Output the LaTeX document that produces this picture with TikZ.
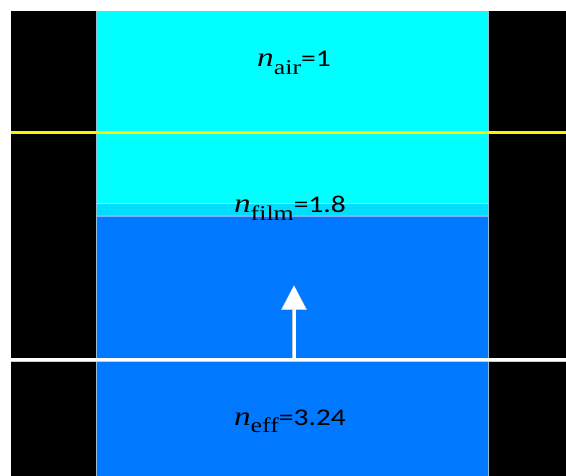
\documentclass[tikz,border=0pt]{standalone}
\usepackage{fontspec}
\setmainfont{Carlito}
\newfontfamily\serifn{Liberation Serif}
\usetikzlibrary{arrows.meta}
\definecolor{aircyan}{RGB}{0,255,255}
\definecolor{filmcyan}{RGB}{0,221,255}
\definecolor{subblue}{RGB}{0,120,255}
\definecolor{edgegray}{RGB}{150,190,210}
\definecolor{filmtop}{RGB}{160,240,255}
\definecolor{filmbot}{RGB}{120,180,255}
\tikzset{
  lbl/.style={anchor=base, inner sep=0pt, font=\fontsize{24}{28}\selectfont, text=black},
  ray/.style={line width=3.5pt},
}
\newcommand{\nidx}[2]{\scalebox{1.23}[1]{{\serifn\fontsize{27}{30}\selectfont\itshape n}\raisebox{-7.5pt}{\serifn\fontsize{21}{24}\selectfont #1}#2}}
\begin{document}
\begin{tikzpicture}[x=1pt,y=1pt]
\useasboundingbox (0,0) rectangle (566,-476);
\fill[white] (0,0) rectangle (566,-476);
\fill[black] (11,-11) rectangle (566,-476);
% central column
\fill[aircyan] (96.5,-11) rectangle (488,-203.5);
\fill[filmcyan] (96.5,-203.5) rectangle (488,-216);
\fill[subblue] (96.5,-216) rectangle (488,-476);
\draw[filmtop, line width=1.2pt] (96.5,-203.5) -- (488,-203.5);
\draw[filmbot, line width=1.5pt] (96.5,-216) -- (488,-216);
\draw[edgegray, line width=1pt] (96.5,-11) -- (96.5,-476);
\draw[edgegray, line width=1pt] (488,-11) -- (488,-476);
% lines
\draw[ray, yellow] (11,-132.5) -- (566,-132.5);
\draw[line width=4pt, gray!40] (11,-360) -- (566,-360);
\draw[line width=3pt, white] (11,-360) -- (566,-360);
% arrow
\coordinate (a0) at (294,-358);
\coordinate (a1) at (294,-285);
\draw[line width=4.5pt, gray!45, -{Triangle[width=25pt,length=25pt]}] (a0) -- (a1);
\draw[line width=3pt, white, -{Triangle[width=23pt,length=23.5pt]}] (a0) -- ([yshift=-0.7pt]a1);
% labels
\node[lbl] (air) at (294,-67) {\nidx{air}{=1}};
\node[lbl] (film) at (290,-213) {\nidx{film}{=1.8}};
\node[lbl] (eff) at (290,-425) {\nidx{eff}{=3.24}};
\end{tikzpicture}
\end{document}
